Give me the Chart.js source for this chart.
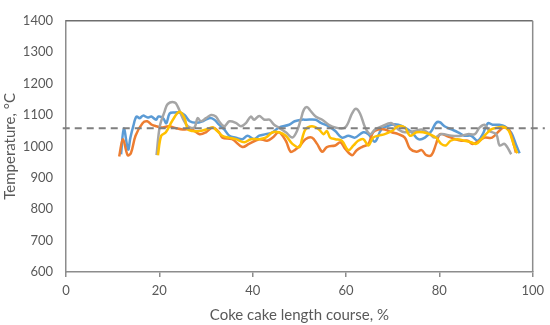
<!DOCTYPE html>
<html>
<head>
<meta charset="utf-8">
<script src="https://cdn.jsdelivr.net/npm/chart.js@4"></script>
<style>
  html, body { margin: 0; padding: 0; background: #fff; }
</style>
</head>
<body>
<canvas id="chart" width="550" height="325"></canvas>
<script>
// values (x = % of coke cake length, y = °C)
const blueX = [11.8, 12.4, 13.3, 13.8, 14.4, 15.1, 15.8, 16.5, 17.5, 18.3, 19.3, 19.8, 20.8, 21.5, 22.2, 23.2, 24.3, 25.4, 26.5, 27.9, 29.3, 30.7, 31.8, 32.8, 33.9, 35.0, 36.4, 37.8, 38.9, 40.3, 41.4, 42.8, 44.3, 45.6, 47.8, 49.0, 50.5, 51.5, 53.5, 54.6, 56.3, 57.7, 59.1, 60.5, 61.9, 63.7, 64.8, 66.2, 67.6, 69.8, 71.2, 72.6, 74.1, 75.5, 76.9, 78.3, 79.3, 80.1, 81.1, 82.6, 84.0, 85.4, 86.8, 88.2, 89.3, 90.4, 91.4, 92.8, 94.0, 95.4, 96.5, 97.2];
const blueY = [975, 1057, 990, 1028, 1064, 1095, 1090, 1098, 1092, 1095, 1085, 1095, 1090, 1074, 1105, 1108, 1108, 1100, 1080, 1075, 1080, 1090, 1085, 1069, 1054, 1034, 1028, 1023, 1034, 1023, 1034, 1039, 1045, 1060, 1069, 1080, 1085, 1085, 1085, 1075, 1064, 1049, 1028, 1034, 1028, 1045, 1039, 1015, 1054, 1069, 1069, 1060, 1045, 1023, 1028, 1049, 1075, 1077, 1064, 1054, 1045, 1034, 1034, 1018, 1039, 1074, 1069, 1069, 1064, 1044, 1003, 978];

const orangeX = [11.4, 12.2, 13.2, 13.9, 14.9, 16.4, 17.4, 18.4, 19.4, 20.5, 22.0, 23.6, 25.0, 27.0, 28.6, 30.0, 31.4, 32.8, 33.5, 35.6, 37.8, 39.2, 41.4, 43.1, 44.3, 45.6, 47.1, 48.1, 49.0, 50.2, 51.3, 52.7, 53.8, 54.9, 55.9, 57.7, 58.8, 59.8, 61.3, 62.3, 63.4, 64.8, 65.8, 66.9, 68.3, 69.8, 71.2, 72.6, 73.7, 75.1, 76.2, 77.2, 78.3, 79.3, 80.1, 81.5, 83.3, 84.7, 86.1, 87.1, 88.6, 89.7, 91.3, 92.8, 93.8, 94.9, 96.0, 96.4];
const orangeY = [968, 1023, 972, 978, 1034, 1074, 1080, 1069, 1064, 1060, 1064, 1058, 1054, 1054, 1039, 1045, 1060, 1045, 1028, 1023, 998, 1008, 1023, 1018, 1028, 1045, 1018, 983, 988, 1003, 1023, 1028, 1008, 983, 998, 1003, 1013, 993, 972, 988, 998, 1008, 1045, 1054, 1054, 1045, 1039, 1028, 993, 983, 988, 972, 972, 1008, 1039, 1034, 1023, 1018, 1018, 1008, 1018, 1028, 1028, 1049, 1060, 1054, 1003, 980];

const grayX = [19.4, 20.1, 21.1, 21.8, 23.3, 24.0, 25.0, 26.1, 27.5, 28.2, 28.9, 30.0, 31.1, 32.1, 32.8, 33.9, 35.0, 36.4, 37.5, 38.6, 39.6, 40.3, 41.4, 42.5, 43.6, 44.6, 45.6, 47.1, 48.5, 49.5, 50.3, 51.0, 51.7, 52.3, 53.5, 54.9, 56.3, 57.7, 59.8, 61.3, 62.1, 63.0, 64.1, 65.2, 66.2, 67.6, 69.8, 71.2, 72.6, 74.8, 76.2, 78.0, 79.0, 80.4, 82.6, 84.7, 86.1, 87.6, 88.6, 89.7, 90.7, 92.2, 92.9, 94.0, 95.4];
const grayY = [972, 1064, 1110, 1135, 1140, 1125, 1090, 1064, 1060, 1090, 1080, 1090, 1100, 1095, 1080, 1064, 1080, 1075, 1064, 1075, 1095, 1085, 1097, 1085, 1085, 1069, 1060, 1045, 1028, 1049, 1085, 1118, 1125, 1115, 1095, 1085, 1069, 1060, 1060, 1105, 1120, 1105, 1060, 1039, 1054, 1064, 1074, 1054, 1045, 1049, 1054, 1039, 1028, 1039, 1034, 1034, 1039, 1039, 1060, 1069, 1049, 1039, 1003, 1008, 975];

const yellowX = [19.7, 20.4, 21.4, 22.9, 24.3, 25.4, 26.1, 27.1, 28.6, 30.0, 31.4, 32.4, 33.5, 34.9, 36.4, 38.2, 39.6, 41.4, 42.8, 44.3, 45.6, 47.1, 48.5, 50.0, 50.6, 51.3, 52.7, 54.2, 55.2, 55.9, 56.6, 57.7, 59.1, 60.5, 61.6, 62.6, 63.7, 64.8, 65.8, 66.9, 68.3, 69.8, 71.2, 72.6, 73.7, 75.1, 76.5, 77.9, 79.3, 80.4, 81.4, 82.4, 83.9, 85.4, 86.8, 87.9, 89.0, 90.0, 91.1, 92.5, 93.8, 94.9, 96.0, 96.7];
const yellowY = [972, 1034, 1045, 1085, 1110, 1090, 1054, 1049, 1049, 1054, 1060, 1049, 1034, 1028, 1023, 1013, 1023, 1023, 1028, 1045, 1045, 1034, 1008, 998, 1025, 1054, 1064, 1054, 1039, 1049, 1028, 1023, 1018, 988, 1003, 1018, 1023, 1003, 1028, 1034, 1039, 1049, 1064, 1060, 1034, 1045, 1045, 1039, 1028, 1008, 1003, 1018, 1023, 1018, 1013, 1008, 1023, 1039, 1054, 1060, 1062, 1049, 1003, 978];

// dashed reference level, runs a little past both plot edges
const refX = [-0.7, 102.6];
const refY = [1058, 1058];

const xTicks = [0, 20, 40, 60, 80, 100];
const yTicks = [600, 700, 800, 900, 1000, 1100, 1200, 1300, 1400];

const pts = (xs, ys) => xs.map((x, i) => ({ x: x, y: ys[i] }));

const textColor = '#595959';
const axisColor = '#8c8c8c';
const fontFamily = 'Lato, "Liberation Sans", sans-serif';

// top and right edges of the plot box
const framePlugin = {
  id: 'frame',
  beforeDatasetsDraw(chart) {
    const { ctx, chartArea: a } = chart;
    ctx.save();
    ctx.lineWidth = 1.5;
    ctx.strokeStyle = '#6e6e6e';
    ctx.beginPath();
    ctx.moveTo(a.left, a.top);
    ctx.lineTo(a.right, a.top);
    ctx.stroke();
    ctx.strokeStyle = axisColor;
    ctx.beginPath();
    ctx.moveTo(a.right, a.top);
    ctx.lineTo(a.right, a.bottom);
    ctx.stroke();
    ctx.restore();
  }
};

const line = (data, color, order) => ({
  data: data,
  borderColor: color,
  backgroundColor: color,
  borderWidth: 2.5,
  pointRadius: 0,
  tension: 0.35,
  fill: false,
  order: order
});

new Chart(document.getElementById('chart'), {
  type: 'line',
  data: {
    datasets: [
      line(pts(blueX, blueY), '#5B9BD5', 4),
      line(pts(orangeX, orangeY), '#ED7D31', 3),
      line(pts(grayX, grayY), '#A5A5A5', 2),
      line(pts(yellowX, yellowY), '#FFC000', 1),
      {
        data: pts(refX, refY),
        borderColor: '#7f7f7f',
        borderWidth: 2,
        borderDash: [7, 5],
        pointRadius: 0,
        tension: 0,
        clip: false,
        order: 0
      }
    ]
  },
  options: {
    responsive: false,
    animation: false,
    devicePixelRatio: 1,
    layout: { padding: { left: 0, right: 15, top: 10, bottom: 0 } },
    plugins: { legend: { display: false }, tooltip: { enabled: false } },
    scales: {
      x: {
        type: 'linear',
        min: 0,
        max: 100,
        afterBuildTicks: s => { s.ticks = xTicks.map(v => ({ value: v })); },
        afterFit: s => { s.height = 53; },
        ticks: { color: textColor, font: { family: fontFamily, size: 13 }, padding: 6, maxRotation: 0, callback: v => String(v) },
        grid: { drawOnChartArea: false, drawTicks: true, tickLength: 5, color: axisColor, lineWidth: 1.5 },
        border: { display: true, color: axisColor, width: 1.5 },
        title: {
          display: true,
          text: 'Coke cake length course, %',
          color: textColor,
          font: { family: fontFamily, size: 15 },
          padding: { top: 0, bottom: 1 }
        }
      },
      y: {
        min: 600,
        max: 1400,
        afterBuildTicks: s => { s.ticks = yTicks.map(v => ({ value: v })); },
        afterFit: s => { s.width = 66; },
        ticks: { color: textColor, font: { family: fontFamily, size: 13 }, padding: 13, callback: v => String(v) },
        grid: { display: false, drawTicks: false },
        border: { display: true, color: axisColor, width: 1.5 },
        title: {
          display: true,
          text: 'Temperature, °C',
          color: textColor,
          font: { family: fontFamily, size: 15 },
          padding: { top: 1, bottom: 0 }
        }
      }
    }
  },
  plugins: [framePlugin]
});
</script>
</body>
</html>
